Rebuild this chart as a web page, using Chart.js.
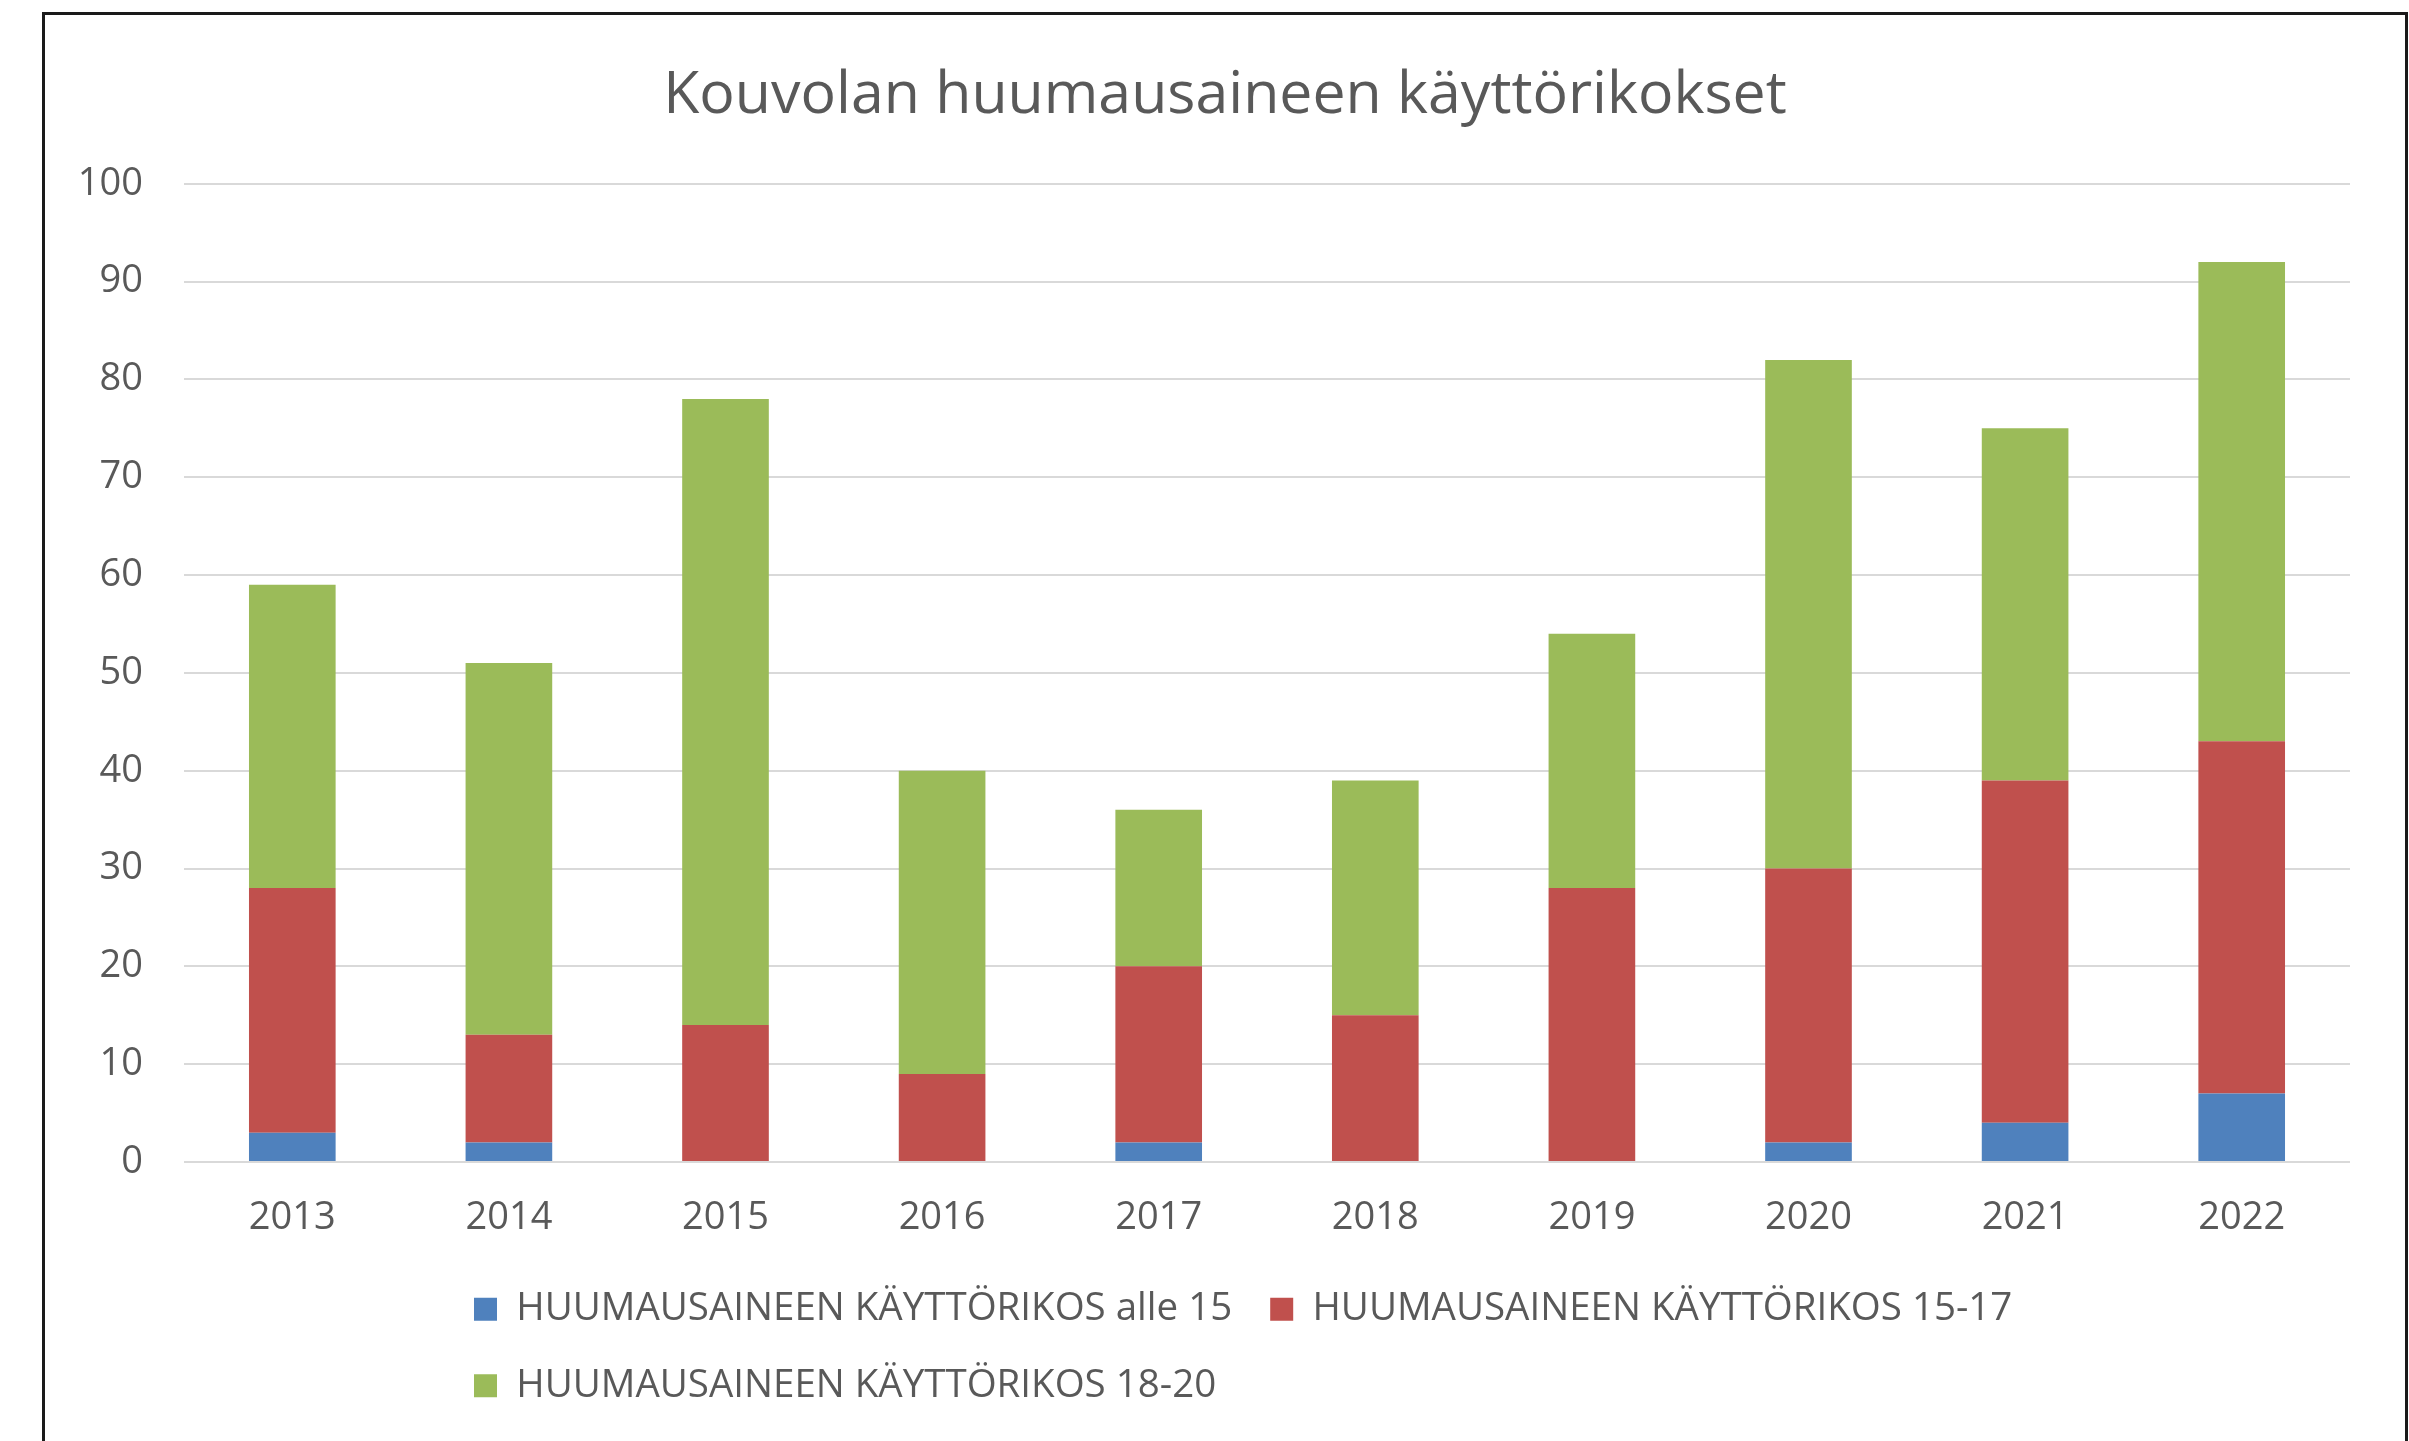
<!DOCTYPE html>
<html>
<head>
<meta charset="utf-8">
<script src="https://cdn.jsdelivr.net/npm/chart.js@4.4.0/dist/chart.umd.min.js"></script>
<style>
  body { margin: 0; background: #fff; width: 2409px; height: 1441px; overflow: hidden; position: relative; }
  #frame { position: absolute; left: 42px; top: 12px; width: 2360px; height: 1440px; border: 3px solid #1a1a1a; }
  #wrap { position: absolute; left: 45px; top: 15px; width: 2360px; height: 1426px; }
</style>
</head>
<body>
<div id="frame"></div>
<div id="wrap"><canvas id="chart"></canvas></div>
<script>
const title = 'Kouvolan huumausaineen käyttörikokset'
const years = ['2013', '2014', '2015', '2016', '2017', '2018', '2019', '2020', '2021', '2022']
const under15 = [3, 2, 0, 0, 2, 0, 0, 2, 4, 7]
const age15to17 = [25, 11, 14, 9, 18, 15, 28, 28, 35, 36]
const age18to20 = [31, 38, 64, 31, 16, 24, 26, 52, 36, 49]
const seriesNames = [
  'HUUMAUSAINEEN KÄYTTÖRIKOS alle 15',
  'HUUMAUSAINEEN KÄYTTÖRIKOS 15-17',
  'HUUMAUSAINEEN KÄYTTÖRIKOS 18-20'
]

const font = 'Open Sans'
const textColor = '#595959'

// Excel puts both legend rows at the same left edge, so move the legend box
const legendStart = {
  id: 'legendStart',
  afterLayout (chart) {
    chart.legend.left = 391
  }
}

const ctx = document.getElementById('chart')
new Chart(ctx, {
  type: 'bar',
  data: {
    labels: years,
    datasets: [
      { label: seriesNames[0], data: under15, backgroundColor: '#4f81bd' },
      { label: seriesNames[1], data: age15to17, backgroundColor: '#c0504d' },
      { label: seriesNames[2], data: age18to20, backgroundColor: '#9bbb59' }
    ]
  },
  options: {
    responsive: true,
    maintainAspectRatio: false,
    animation: false,
    datasets: {
      bar: { barPercentage: 0.4, categoryPercentage: 1.0 }
    },
    layout: { padding: { left: 0, right: 0, top: 0, bottom: 26 } },
    scales: {
      x: {
        stacked: true,
        grid: { display: false },
        border: { display: false },
        ticks: { color: textColor, font: { family: font, size: 38 }, padding: 25 },
        afterFit (scale) {
          scale.height = 90
          scale.paddingRight = 55
        }
      },
      y: {
        stacked: true,
        min: 0,
        max: 100,
        grid: { color: '#d9d9d9', lineWidth: 2, drawTicks: false },
        border: { display: false },
        ticks: { stepSize: 10, color: textColor, font: { family: font, size: 38 }, padding: 41 },
        afterFit (scale) {
          scale.width = 139
        }
      }
    },
    plugins: {
      title: {
        display: true,
        text: title,
        color: textColor,
        font: { family: font, size: 59, weight: 'normal' },
        padding: { top: 46, bottom: 52 }
      },
      legend: {
        position: 'bottom',
        align: 'start',
        fullSize: false,
        labels: {
          boxWidth: 23,
          boxHeight: 23,
          padding: 38,
          color: textColor,
          font: { family: font, size: 38.5 }
        }
      },
      tooltip: { enabled: false }
    }
  },
  plugins: [legendStart]
})
</script>
</body>
</html>
